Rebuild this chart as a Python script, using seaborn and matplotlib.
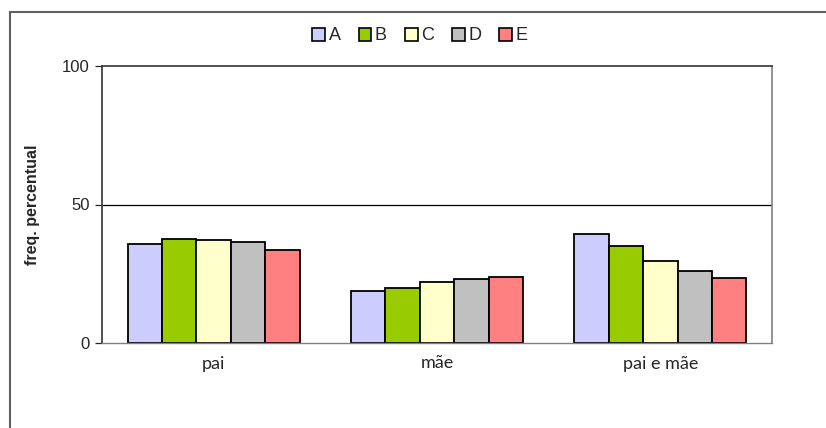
import numpy as np
import pandas as pd
import matplotlib
matplotlib.use('Agg')
import matplotlib.pyplot as plt
import seaborn as sns
from matplotlib.lines import Line2D
from matplotlib.patches import Patch

categories = ['pai', 'mãe', 'pai e mãe']
series = ['A', 'B', 'C', 'D', 'E']
vals_A = [35.6, 18.6, 39.2]
vals_B = [37.4, 19.7, 35.0]
vals_C = [37.1, 22.0, 29.6]
vals_D = [36.3, 23.2, 25.9]
vals_E = [33.6, 23.7, 23.3]
colors = ['#CCCCFF', '#99CC00', '#FFFFCC', '#C0C0C0', '#FF8080']

# long table for seaborn
rows = []
for s, vals in zip(series, [vals_A, vals_B, vals_C, vals_D, vals_E]):
    for c, v in zip(categories, vals):
        rows.append({'cat': c, 'serie': s, 'freq': v})
df = pd.DataFrame(rows)

sns.set_style('white')
plt.rcParams['font.family'] = ['Liberation Sans', 'DejaVu Sans']

fig = plt.figure(figsize=(8.26, 4.28), dpi=100)
ax = fig.add_axes([102 / 826, 1 - 343 / 428, 670 / 826, 277 / 428])

sns.barplot(data=df, x='cat', y='freq', hue='serie', order=categories,
            hue_order=series, palette=colors, width=0.77, saturation=1,
            edgecolor='black', linewidth=1.3, ax=ax, legend=False)

ax.set_ylim(0, 100)
ax.set_xlim(-0.5, 2.5)
ax.set_yticks([0, 50, 100])
ax.axhline(50, color='black', lw=0.9, zorder=0)
ax.tick_params(axis='y', direction='out', length=5, width=0.9, left=True,
               labelsize=12, pad=4)
ax.tick_params(axis='x', length=0, labelsize=13, pad=9)
for lab in ax.get_xticklabels():
    lab.set_family(['Lato', 'DejaVu Sans'])
ax.set_xlabel('')
ax.set_ylabel('freq. percentual', fontsize=11.5, fontweight='bold')
ax.yaxis.set_label_coords(-0.093, 0.5)
for sp in ['top', 'left']:
    ax.spines[sp].set_color('#333333')
    ax.spines[sp].set_linewidth(1.2)
ax.spines['right'].set_color('#808080')
ax.spines['right'].set_linewidth(1.2)
ax.spines['bottom'].set_color('#808080')
ax.spines['bottom'].set_linewidth(1.0)

handles = [Patch(facecolor=c, edgecolor='black', linewidth=1.2, label=s)
           for s, c in zip(series, colors)]
fig.legend(handles=handles, loc='center', bbox_to_anchor=(420 / 826, 1 - 36 / 428),
           ncol=5, frameon=False, fontsize=13, handlelength=0.7, handleheight=0.7,
           handletextpad=0.2, columnspacing=1.0)

# outer chart border (left and top)
fig.add_artist(Line2D([10 / 826, 10 / 826], [0, 1 - 12 / 428], transform=fig.transFigure,
                      color='#606060', lw=1.5))
fig.add_artist(Line2D([10 / 826, 1], [1 - 12 / 428, 1 - 12 / 428], transform=fig.transFigure,
                      color='#606060', lw=1.5))

fig.savefig('out.png', dpi=100, facecolor='white')
